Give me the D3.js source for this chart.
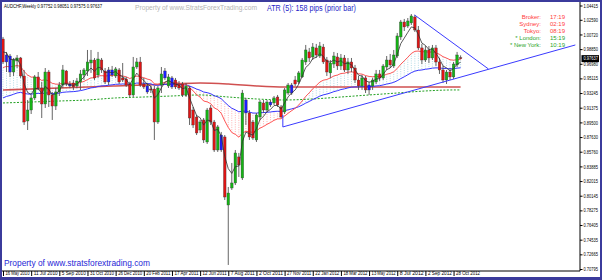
<!DOCTYPE html>
<html><head><meta charset="utf-8">
<script src="https://cdn.jsdelivr.net/npm/d3@7"></script>
<style>body{margin:0;background:#fff}svg{display:block}text{font-family:"Liberation Sans",Arial,sans-serif}</style>
</head><body>
<svg id="c" width="602" height="280"></svg>
<script>
// ---------- DATA ----------
const symbolTitle = "AUDCHF,Weekly  0.97752 0.98051 0.97575 0.97637";
const atrText = "ATR (5): 158 pips (prior bar)";
const watermark = "Property of www.StratsForexTrading.com";
const footer = "Property of www.stratsforextrading.com";
const sessionNames = ["Broker:", "Sydney:", "Tokyo:", "* London:", "* New York:"];
const sessionTimes = ["17:19", "02:19", "08:19", "15:19", "10:19"];
const sessionOpen = [false, false, false, true, true];

const dateLabels = ["16 May 2010","11 Jul 2010","5 Sep 2010","31 Oct 2010","26 Dec 2010","20 Feb 2011","17 Apr 2011","12 Jun 2011","7 Aug 2011","2 Oct 2011","27 Nov 2011","22 Jan 2012","18 Mar 2012","13 May 2012","8 Jul 2012","2 Sep 2012","28 Oct 2012"];
const dateBars = [0,8,16,24,32,40,48,56,64,72,80,88,96,104,112,120,128];

const yTickValues = [1.04415,1.02590,1.00720,0.98850,0.96980,0.95115,0.93245,0.91375,0.89500,0.87630,0.85760,0.83885,0.82015,0.80145,0.78275,0.76405,0.74535,0.72665,0.70795];

const opens = [1.0014,0.9721,0.9797,0.9593,0.9734,0.9772,0.9542,0.8968,0.9108,0.9262,0.9530,0.9389,0.9185,0.9593,0.9300,0.9159,0.9338,0.9427,0.9606,0.9440,0.9453,0.9415,0.9466,0.9555,0.9606,0.9708,0.9746,0.9555,0.9746,0.9606,0.9466,0.9619,0.9542,0.9619,0.9517,0.9504,0.9440,0.9300,0.9657,0.9721,0.9440,0.9415,0.9376,0.9376,0.8955,0.9427,0.9517,0.9415,0.9517,0.9491,0.9440,0.9440,0.9300,0.9389,0.9108,0.9019,0.8853,0.8981,0.8700,0.9134,0.8955,0.8598,0.8789,0.8764,0.7896,0.8113,0.8177,0.8509,0.8241,0.9236,0.9070,0.8955,0.8726,0.9019,0.9198,0.9108,0.9210,0.9198,0.9274,0.9147,0.9083,0.9325,0.9325,0.9491,0.9466,0.9530,0.9721,0.9849,0.9785,0.9900,0.9797,0.9912,0.9746,0.9581,0.9695,0.9785,0.9670,0.9772,0.9619,0.9721,0.9644,0.9491,0.9415,0.9517,0.9364,0.9415,0.9466,0.9568,0.9517,0.9657,0.9746,0.9670,0.9797,1.0040,1.0231,1.0180,1.0219,1.0295,1.0129,0.9900,0.9746,0.9874,0.9772,0.9900,0.9721,0.9619,0.9491,0.9593,0.9530,0.9683,0.97752];
const highs = [1.0040,0.9849,0.9823,0.9772,0.9810,0.9785,0.9619,0.9236,0.9300,0.9555,0.9593,0.9466,0.9644,0.9619,0.9338,0.9389,0.9466,0.9683,0.9619,0.9478,0.9491,0.9517,0.9619,0.9644,0.9874,0.9874,0.9772,0.9849,0.9772,0.9644,0.9657,0.9670,0.9657,0.9644,0.9708,0.9530,0.9466,0.9785,0.9772,0.9785,0.9517,0.9453,0.9415,0.9415,0.9415,0.9657,0.9644,0.9568,0.9542,0.9517,0.9478,0.9466,0.9453,0.9415,0.9147,0.9045,0.8981,0.9006,0.9134,0.9172,0.8981,0.8917,0.8828,0.8789,0.8126,0.8432,0.8598,0.8560,0.9364,0.9262,0.9108,0.8981,0.9070,0.9236,0.9236,0.9236,0.9236,0.9287,0.9300,0.9172,0.9389,0.9453,0.9453,0.9542,0.9606,0.9772,0.9938,0.9900,0.9963,0.9951,0.9976,0.9951,0.9785,0.9746,0.9849,0.9836,0.9823,0.9810,0.9772,0.9772,0.9683,0.9542,0.9555,0.9542,0.9466,0.9517,0.9619,0.9619,0.9695,0.9797,0.9823,0.9874,1.0091,1.0257,1.0270,1.0282,1.0333,1.0321,1.0180,0.9951,0.9925,0.9925,0.9938,0.9938,0.9772,0.9670,0.9619,0.9644,0.9721,0.9849,0.98051];
const lows = [0.9695,0.9593,0.9530,0.9542,0.9644,0.9517,0.8917,0.8853,0.9057,0.9236,0.9364,0.9006,0.9134,0.9147,0.8981,0.9108,0.9287,0.9389,0.9415,0.9389,0.9364,0.9389,0.9364,0.9491,0.9542,0.9581,0.9491,0.9517,0.9581,0.9440,0.9427,0.9530,0.9517,0.9440,0.9466,0.9402,0.9274,0.9274,0.9632,0.9402,0.9376,0.9313,0.9325,0.8726,0.8930,0.9325,0.9491,0.9389,0.9376,0.9376,0.9364,0.9274,0.9274,0.8917,0.8879,0.8789,0.8815,0.8687,0.8675,0.8917,0.8573,0.8573,0.8573,0.7960,0.7131,0.8088,0.8151,0.8254,0.8215,0.8917,0.8726,0.8726,0.8700,0.8981,0.9070,0.9083,0.9147,0.9172,0.9147,0.9006,0.9057,0.9300,0.9300,0.9415,0.9440,0.9517,0.9683,0.9721,0.9746,0.9772,0.9772,0.9695,0.9542,0.9517,0.9644,0.9619,0.9619,0.9593,0.9568,0.9593,0.9453,0.9364,0.9364,0.9325,0.9300,0.9364,0.9440,0.9478,0.9491,0.9619,0.9644,0.9644,0.9772,1.0002,1.0116,1.0155,1.0193,1.0104,0.9874,0.9695,0.9721,0.9708,0.9746,0.9670,0.9568,0.9453,0.9440,0.9491,0.9504,0.9657,0.97575];
const closes = [0.9721,0.9810,0.9593,0.9746,0.9772,0.9542,0.8955,0.9108,0.9262,0.9530,0.9389,0.9185,0.9593,0.9300,0.9159,0.9338,0.9427,0.9619,0.9440,0.9415,0.9402,0.9478,0.9568,0.9619,0.9721,0.9746,0.9517,0.9759,0.9619,0.9466,0.9619,0.9555,0.9632,0.9466,0.9491,0.9427,0.9300,0.9657,0.9721,0.9427,0.9402,0.9338,0.9364,0.8955,0.9389,0.9568,0.9606,0.9530,0.9402,0.9402,0.9389,0.9300,0.9415,0.9006,0.8917,0.8815,0.8955,0.8726,0.9108,0.8955,0.8598,0.8892,0.8598,0.7998,0.8049,0.8177,0.8560,0.8407,0.9325,0.9070,0.8764,0.8751,0.9045,0.9210,0.9108,0.9210,0.9172,0.9262,0.9172,0.9019,0.9364,0.9427,0.9427,0.9440,0.9581,0.9746,0.9874,0.9772,0.9912,0.9810,0.9925,0.9721,0.9593,0.9708,0.9797,0.9670,0.9772,0.9619,0.9721,0.9644,0.9491,0.9415,0.9517,0.9364,0.9427,0.9491,0.9568,0.9517,0.9670,0.9746,0.9683,0.9810,1.0053,1.0231,1.0168,1.0244,1.0308,1.0129,0.9900,0.9746,0.9874,0.9772,0.9900,0.9721,0.9619,0.9491,0.9593,0.9530,0.9695,0.9810,0.97637];
const blueBars = [1,2,19,30,31,41,46,48,62,69,76,82,104];

// moving averages: fast/medium/slow computed from closes, first visible value
const maPeriods = [5, 21, 55];
const maStartValues = [0.9850, 0.9650, 0.9262];
// long averages at these bars
const longMaBars = [0,8,16,24,32,40,48,56,64,72,80,88,96,104,112,120,128,130];
const longMaRed = [0.9364,0.9376,0.9389,0.9402,0.9415,0.9427,0.9440,0.9453,0.9440,0.9415,0.9402,0.9402,0.9402,0.9402,0.9402,0.9402,0.9402,0.9402];
const longMaGreen = [0.9198,0.9210,0.9223,0.9236,0.9262,0.9274,0.9287,0.9300,0.9274,0.9249,0.9236,0.9249,0.9274,0.9300,0.9325,0.9351,0.9364,0.9364];

// trend lines: [bar, price] pairs
const trendLines = [
  [[79.5, 0.9045], [79.5, 0.8892]],
  [[79.5, 0.8892], [162.6, 0.9938]],
  [[116.9, 1.0321], [137.9, 0.9632]]
];

// ---------- DRAW ----------
const W = 602, H = 280;
const plotL = 2, plotT = 2, plotR = 580, plotB = 271;
const FONT = '"Liberation Sans",Arial,sans-serif';
const svg = d3.select('#c');
svg.append('rect').attr('width', W).attr('height', H).attr('fill', '#fff');

const x = d3.scaleLinear().domain([0, 130]).range([3, 460.6]);
const y = d3.scaleLinear().domain([0.70795, 1.04415]).range([269, 5.5]);

svg.append('defs').append('clipPath').attr('id', 'plot')
  .append('rect').attr('x', plotL).attr('y', plotT).attr('width', plotR - plotL).attr('height', plotB - plotT);
const g = svg.append('g').attr('clip-path', 'url(#plot)');

function ema(period, start) {
  const a = 2 / (period + 1); let v = start; const out = [];
  closes.forEach((c, i) => { if (i > 0) v = v + a * (c - v); out.push(v); });
  return out;
}
const maFast = ema(maPeriods[0], maStartValues[0]);
const maMid = ema(maPeriods[1], maStartValues[1]);
const maSlow = ema(maPeriods[2], maStartValues[2]);

// hatch between mid and slow averages
g.append('g').selectAll('line').data(closes).join('line')
  .attr('x1', (d, i) => x(i)).attr('x2', (d, i) => x(i))
  .attr('y1', (d, i) => y(maMid[i])).attr('y2', (d, i) => y(maSlow[i]))
  .attr('stroke', (d, i) => maMid[i] >= maSlow[i] ? '#a9d6e2' : '#ffaaaa')
  .attr('stroke-width', 0.9).attr('stroke-dasharray', '1,1.3');

// long averages
const longLine = d3.line().x((d, k) => x(longMaBars[k])).y(d => y(d)).curve(d3.curveMonotoneX);
g.append('path').attr('d', longLine(longMaGreen)).attr('fill', 'none')
  .attr('stroke', '#22a022').attr('stroke-width', 1).attr('stroke-dasharray', '2,1.5');
g.append('path').attr('d', longLine(longMaRed)).attr('fill', 'none')
  .attr('stroke', '#d05050').attr('stroke-width', 1.6);

const maLine = d3.line().x((d, i) => x(i)).y(d => y(d));
g.append('path').attr('d', maLine(maSlow)).attr('fill', 'none').attr('stroke', '#3535ff').attr('stroke-width', 1);
g.append('path').attr('d', maLine(maMid)).attr('fill', 'none').attr('stroke', '#ff5555').attr('stroke-width', 1);

// candles
const bw = 2.6;
const cg = g.append('g');
closes.forEach((c, i) => {
  const o = opens[i];
  const col = blueBars.includes(i) ? '#1c1cff' : (c >= o ? '#14b414' : '#e01414');
  cg.append('line').attr('x1', x(i)).attr('x2', x(i)).attr('y1', y(highs[i])).attr('y2', y(lows[i]))
    .attr('stroke', '#555').attr('stroke-width', 0.9);
  const top = y(Math.max(o, c)), bot = y(Math.min(o, c));
  cg.append('rect').attr('x', x(i) - bw / 2).attr('y', top).attr('width', bw).attr('height', Math.max(1, bot - top))
    .attr('fill', col).attr('stroke', '#3a3a3a').attr('stroke-width', 0.35);
});

g.append('path').attr('d', maLine(maFast)).attr('fill', 'none').attr('stroke', '#303030').attr('stroke-width', 0.8);

// trend lines
trendLines.forEach(t => {
  g.append('line').attr('x1', x(t[0][0])).attr('y1', y(t[0][1])).attr('x2', x(t[1][0])).attr('y2', y(t[1][1]))
    .attr('stroke', '#3a3aff').attr('stroke-width', 1);
});

// axes frame
svg.append('line').attr('x1', plotR).attr('x2', plotR).attr('y1', plotT).attr('y2', plotB).attr('stroke', '#000').attr('stroke-width', 1);
svg.append('line').attr('x1', plotL).attr('x2', plotR).attr('y1', plotB).attr('y2', plotB).attr('stroke', '#000').attr('stroke-width', 1);

// y axis
const ya = svg.append('g').attr('transform', `translate(${plotR},0)`)
  .call(d3.axisRight(y).tickValues(yTickValues).tickSize(2.5).tickFormat(d3.format('.5f')));
ya.select('.domain').remove();
ya.selectAll('line').attr('stroke', '#000');
ya.selectAll('text').attr('x', 3.5).attr('font-size', 5).attr('fill', '#000')
  .attr('font-family', FONT).attr('textLength', 14.5).attr('lengthAdjust', 'spacingAndGlyphs');

// current price
const last = closes[closes.length - 1];
svg.append('rect').attr('x', plotR + 1.5).attr('y', y(last) - 3.5).attr('width', 17.5).attr('height', 7).attr('fill', '#000');
svg.append('text').attr('x', plotR + 3.5).attr('y', y(last)).attr('dy', '0.34em').attr('font-size', 5)
  .attr('fill', '#fff').attr('textLength', 14.5).attr('lengthAdjust', 'spacingAndGlyphs').text(last.toFixed(5));

// x axis
const xa = svg.append('g').attr('transform', `translate(0,${plotB})`)
  .call(d3.axisBottom(x).tickValues(dateBars).tickSize(5).tickFormat((d, k) => dateLabels[k]));
xa.select('.domain').remove();
xa.selectAll('line').attr('stroke', '#000');
xa.selectAll('text').attr('text-anchor', 'start').attr('x', 2).attr('y', 0.8).attr('dy', '0.71em')
  .attr('font-size', 5).attr('fill', '#000').attr('font-family', FONT)
  .attr('textLength', 24).attr('lengthAdjust', 'spacingAndGlyphs');

// texts
svg.append('text').attr('x', 4).attr('y', 7.5).attr('font-size', 5).attr('fill', '#000')
  .attr('textLength', 98).attr('lengthAdjust', 'spacingAndGlyphs').text(symbolTitle);
svg.append('text').attr('x', 135).attr('y', 9.5).attr('font-size', 7).attr('fill', '#b4b4b4')
  .attr('textLength', 122).attr('lengthAdjust', 'spacingAndGlyphs').text(watermark);
svg.append('text').attr('x', 267).attr('y', 11).attr('font-size', 8.5).attr('fill', '#2525c8')
  .attr('textLength', 89).attr('lengthAdjust', 'spacingAndGlyphs').text(atrText);
svg.append('text').attr('x', 4).attr('y', 265.5).attr('font-size', 9.5).attr('fill', '#1f1fd6')
  .attr('textLength', 146).attr('lengthAdjust', 'spacingAndGlyphs').text(footer);

sessionNames.forEach((n, k) => {
  const col = sessionOpen[k] ? '#2aa52a' : '#ff3c3c';
  const yy = 18.5 + k * 7;
  svg.append('text').attr('x', 541).attr('y', yy).attr('text-anchor', 'end').attr('font-size', 6).attr('fill', col).text(n);
  svg.append('text').attr('x', 550).attr('y', yy).attr('font-size', 6).attr('fill', col).text(sessionTimes[k]);
});

// window frame
svg.append('rect').attr('x', 1).attr('y', 1).attr('width', W - 2).attr('height', H - 2)
  .attr('fill', 'none').attr('stroke', '#3b3b9c').attr('stroke-width', 2);
svg.append('line').attr('x1', 0).attr('x2', W).attr('y1', 278.5).attr('y2', 278.5).attr('stroke', '#3b3b9c').attr('stroke-width', 3);
</script>
</body></html>
